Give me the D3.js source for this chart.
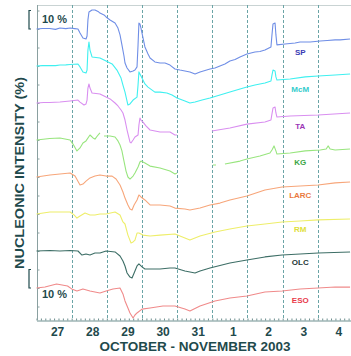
<!DOCTYPE html>
<html>
<head>
<meta charset="utf-8">
<script src="https://cdn.jsdelivr.net/npm/d3@7"></script>
<style>
  html, body { margin: 0; padding: 0; background: #fff; }
  svg { display: block; font-family: "Liberation Sans", Arial, sans-serif; }
</style>
</head>
<body>
<svg id="chart" width="351" height="356"></svg>
<script>
// Hourly nucleonic intensity, percent change from the 27 Oct level.
// Time is hours since 27 Oct 2003 00 UT; null marks a data gap.
const stations = ["SP", "McM", "TA", "KG", "LARC", "RM", "OLC", "ESO"];

const spData = [
  [0,0],[4,0.3],[9,0.3],[13,-0.2],[16,0.5],[20,0.2],[23,0.5],[26,0.2],[28.3,0],[29.7,-2.2],[31.7,-4.9],[33.8,-5.4],[34.5,-3.8],
  [35.1,4.9],[35.8,9.2],[37.9,10.3],[39.9,10.3],[42,9.5],[43.3,8.6],[46.1,7.6],[47.5,6.5],[50.2,4.9],[53.6,3.2],[55.6,0.5],
  [57,-3.2],[58.3,-8.6],[59.7,-14.6],[60.4,-18.4],[61.8,-21.1],[63.8,-23.2],[65.9,-22.7],[67.2,-22.2],[68.6,-20.5],
  [69.3,-8.6],[69.9,3.2],[70.6,2.7],[71.3,0.5],[72,-2.2],[74,-9.7],[76.1,-13.5],[77.5,-15.7],[80.8,-17.8],[84.3,-18.4],
  [87.7,-18.4],[91.1,-19.5],[94.5,-21.6],[97.9,-22.2],[101.3,-22.7],[104.7,-23.2],[108.2,-24.3],[111.6,-23.2],
  [115,-22.4],[118.4,-21.6],[121.8,-21.1],[125.2,-20],[128.6,-18.9],[132,-17.3],[135.5,-16.5],[138.9,-15.1],
  [143.6,-13.5],[149.1,-12.4],[152.5,-12.2],[155.9,-11.4],[160,-9.7],[160.7,-3.2],[161.4,2.7],[162.8,3.2],
  [163.4,-3.2],[164.1,-8.6],[169.6,-8.1],[176.5,-7.6],[179.9,-7],[186.8,-7],[193.6,-6.5],[198.4,-6.2],[203.8,-5.9],
  [207.2,-5.9],[214,-5.4]
];

const mcmData = [
  [0,0],[4,0.2],[9,0.3],[13,0.2],[16,0.5],[20,0.6],[23,0.8],[28.3,1.1],[29.7,-0.5],[31.7,-3.2],[33.8,-3.8],[34.5,-2.2],
  [35.1,8.6],[35.8,13],[36.5,8.6],[37.9,4.9],[43.3,4.3],[47.5,2.7],[51.6,1.1],[54.9,-2.2],[57.7,-6.5],[59,-10.3],
  [60.4,-14.1],[62.4,-21.1],[63.8,-20.5],[65.9,-18.4],[68.6,-16.8],[69.3,-10.3],[69.9,-3.2],[70.6,-4.3],[72,-6.5],
  [74,-9.7],[76.1,-11.4],[80.8,-14.1],[84.3,-14.1],[89,-14.6],[92.5,-15.7],[95.9,-17.3],[101.3,-18.9],[104.7,-20],
  [108.2,-19.5],[113,-18.4],[118.4,-17.3],[125.2,-15.7],[132,-14.1],[138.9,-12.4],[143.6,-11.4],[149.1,-10.3],
  [155.9,-9.2],[160,-8.1],[160.7,-4.9],[161.4,-2.2],[162.8,-2.7],[163.4,-5.9],[164.1,-7.6],[173.1,-7],[183.4,-5.9],
  [192.2,-5.4],[203.8,-4.9],[214,-4.3]
];

const taData = [
  [0,0],[5,0.3],[9,0.3],[16,0.5],[22.9,1.1],[28.3,1.6],[29.7,0.5],[32.4,-1.1],[33.8,-0.5],[34.5,1.6],[35.1,8.1],
  [35.8,10.3],[36.5,8.1],[37.9,5.4],[43.3,4.9],[47.5,3.2],[50.2,2.2],[53.6,0],[55.6,-1.6],[57.7,-3.8],[59,-5.4],
  [60.4,-9.2],[61.8,-14.6],[63.8,-21.1],[64.5,-21.6],[65.9,-20],[67.2,-18.4],[69.3,-17.3],[69.9,-11.9],[70.6,-8.1],
  [71.3,-9.2],[72.7,-10.3],[74.7,-12.4],[77.5,-14.6],[84.3,-15.7],[91.1,-15.7],[94.5,-17.3],[95.9,-17.3],
  null,
  [119.7,-15.1],[132,-13.5],[143.6,-11.4],[155.9,-10.3],[160,-9.2],[160.7,-5.9],[161.4,-2.7],[162.8,-2.2],
  [163.4,-5.4],[164.1,-7.6],[173.1,-7],[192.2,-6.5],[214,-5.4]
];

const kgData = [
  [0,0],[9,0.8],[16,1.1],[22.9,0],[24.9,-2.2],[27.6,-5.9],[29.7,-4.3],[31.7,-1.6],[33.8,-0.5],[36.5,2.7],[38.6,1.1],
  [39.9,0.5],[42,2.7],[43.3,3.8],
  null,
  [46.1,2.2],[50.2,2.2],[53.6,1.6],[55.6,-0.5],[57,-2.7],[58.3,-5.9],[59.7,-11.4],[61.1,-16.8],[62.4,-20],
  [63.8,-21.1],[65.9,-19.5],[67.2,-17.8],[69.3,-14.6],[70.6,-11.9],[71.3,-11.4],[72.7,-11.9],[74,-12.4],
  [77.5,-14.1],[84.3,-15.1],[91.1,-16.8],[94.5,-18.4],[95.9,-17.8],
  null,
  [120.4,-13.5],[122.5,-13.5],
  null,
  [128.6,-13],[138.9,-11.4],[143.6,-10.3],[152.5,-8.6],[159.3,-7],[160.7,-5.4],[162.1,-3.2],[163.4,-5.9],
  [164.1,-7.6],[173.1,-7],[183.4,-5.9],[193.6,-5.4],[197.7,-4.9],[199,-3.2],[200.4,-4.9],[203.8,-5.4],[214,-4.9]
];

const larcData = [
  [0,0],[9.2,1.1],[16,1.6],[22.9,2.2],[26.3,0.5],[29.7,-4.3],[31.7,-3.8],[33.8,-2.2],[36.5,-0.5],[39.9,0.5],
  [43.3,1.1],[47.5,0.5],[51.6,0.5],[54.3,-1.1],[57,-4.3],[59,-8.1],[60.4,-11.4],[62.4,-15.1],[63.8,-17.3],
  [65.2,-17.8],[66.6,-15.1],[68.6,-12.4],[69.9,-9.7],[71.3,-10.8],[74,-12.4],[77.5,-15.1],[84.3,-15.1],
  [91.1,-15.7],[94.5,-16.8],[101.3,-17.3],[104.7,-17.8],[111.6,-16.8],[118.4,-15.1],[125.2,-14.1],[132,-12.4],
  [143.6,-10.3],[155.9,-7],[167.6,-5.4],[179.9,-4.9],[192.2,-4.3],[203.8,-3.2],[214,-2.7]
];

const rmData = [
  [0,0],[9.2,1.1],[16,1.1],[22.9,1.1],[25.6,-0.5],[27.6,-2.2],[29.7,-1.1],[33.1,0.5],[36.5,-0.5],[39.9,-0.5],
  [43.3,0],[47.5,0],[53.6,1.1],[57,-0.5],[59,-4.3],[60.4,-5.4],[62.4,-11.4],[64.5,-15.7],[65.9,-15.1],[67.2,-14.1],
  [68.6,-10.3],[69.9,-10.3],[72.7,-11.4],[77.5,-11.9],[84.3,-11.4],[94.5,-10.8],[101.3,-13],[104.7,-14.1],
  [111.6,-11.9],[121.8,-9.7],[132,-8.1],[143.6,-6.5],[155.9,-5.4],[167.6,-4.3],[179.9,-3.8],[192.2,-3.2],[214,-2.7]
];

const olcData = [
  [0,0],[9.2,0.3],[16,0],[22.9,0.3],[28.3,0],[31,-2.2],[33.8,-1.6],[36.5,-2.2],[39.9,-1.1],[43.3,-1.1],[47.5,0],
  [53.6,-0.5],[57,-2.7],[59,-5.4],[60.4,-8.1],[61.8,-11.9],[63.8,-14.1],[65.2,-14.6],[67.2,-10.8],[68.6,-8.1],
  [69.9,-7],[72,-8.6],[74,-9.7],[77.5,-9.7],[84.3,-9.7],[91.1,-9.2],[94.5,-9.2],[101.3,-10.8],[108.2,-11.9],
  [111.6,-10.8],[118.4,-9.2],[132,-6.5],[143.6,-4.9],[155.9,-3.2],[167.6,-2.2],[179.9,-1.6],[192.2,-1.1],[214,-0.5]
];

const esoData = [
  [0,0],[5.8,0.5],[13.7,2.2],[21.2,1.1],[24,-0.5],[27.6,-1.6],[31.7,-0.5],[36.5,-1.6],[43.3,-2.7],[47.5,-1.6],
  [52.2,-0.5],[57,0],[59,-3.2],[60.4,-7],[62.4,-10.8],[63.8,-13.5],[65.9,-16.2],[67.2,-14.6],[68.6,-13.5],
  [72,-11.4],[77.5,-10.8],[86.3,-9.7],[94.5,-9.7],[101.3,-11.4],[104.7,-12.4],[111.6,-9.7],[121.8,-7],
  [132,-5.4],[143.6,-4.3],[155.9,-2.2],[167.6,-1.6],[179.9,-0.5],[192.2,0],[203.8,0.5],[214,0.5]
];

const seriesData = [spData, mcmData, taData, kgData, larcData, rmData, olcData, esoData];
const dayLabels = ["27", "28", "29", "30", "31", "1", "2", "3", "4"];
const xTitle = "OCTOBER - NOVEMBER 2003";
const yTitle = "NUCLEONIC INTENSITY (%)";
const scaleLabel = "10 %";

// Styling and layout
const lineColors = ["#6f8ee6", "#3ff0f0", "#d98ff0", "#98e57e", "#f7a67a", "#eeee6a", "#3d6e66", "#f08a8a"];
const nameColors = ["#3a3ab4", "#33cccc", "#9a35b5", "#3aa544", "#ea7a3e", "#dede3a", "#1e3a38", "#e83a4a"];
const nameOffsets = [-12.4, -12.4, -12.4, -11.9, -9.7, -8.1, -5.9, -6.5]; // % below each baseline
const stackStep = 20;   // % between stacked traces
const inkColor = "#1f4a4c";

const svg = d3.select("#chart");
const plotLeft = 37, plotTop = 5, plotBottom = 320;

const x = d3.scaleLinear().domain([0, 216]).range([36.5, 353]);
const y = d3.scaleLinear().domain([0, -160]).range([29, 29 + 160 * 1.85]);

// frame
svg.append("line").attr("x1", plotLeft).attr("x2", 351).attr("y1", plotTop + 0.5).attr("y2", plotTop + 0.5)
  .attr("stroke", "#c9d3d3").attr("stroke-width", 1);

// midnight separators
const midnights = d3.range(1, 9).map(d => d * 24);
svg.append("g").selectAll("line").data(midnights).join("line")
  .attr("x1", d => Math.round(x(d)) + 0.5).attr("x2", d => Math.round(x(d)) + 0.5)
  .attr("y1", plotTop).attr("y2", plotBottom)
  .attr("stroke", "#6aa4a6").attr("stroke-width", 1).attr("stroke-dasharray", "3,2");

// bottom axis with 3-hour minor ticks
const bottomAxis = d3.axisBottom(x).tickValues(d3.range(0, 217, 3)).tickSize(-2).tickSizeOuter(0).tickFormat("");
const gb = svg.append("g").attr("transform", `translate(0,${plotBottom + 0.5})`).call(bottomAxis);
gb.select(".domain").attr("stroke", "#6f9090");
gb.selectAll(".tick line").attr("stroke", "#6f9090");

// left axis with ticks every 10 %
const leftAxis = d3.axisLeft(y).tickValues(d3.range(10, -160, -10)).tickSize(-2).tickFormat("");
const gl = svg.append("g").attr("transform", `translate(${plotLeft + 0.5},0)`).call(leftAxis);
gl.select(".domain").attr("d", `M0,${plotTop}V${plotBottom}`).attr("stroke", "#8aa0a0");
gl.selectAll(".tick line").attr("stroke", "#8aa0a0");

// day labels
svg.append("g").selectAll("text").data(dayLabels).join("text")
  .attr("x", (d, i) => x(i * 24 + 14.4)).attr("y", 335.5)
  .attr("text-anchor", "middle").attr("font-size", 12).attr("font-weight", "bold")
  .attr("fill", inkColor).text(d => d);

svg.append("text").attr("x", 195).attr("y", 350.5).attr("text-anchor", "middle")
  .attr("font-size", 13.5).attr("font-weight", "bold").attr("fill", inkColor).text(xTitle);

svg.append("text").attr("transform", "translate(24,173) rotate(-90)").attr("text-anchor", "middle")
  .attr("font-size", 12.5).attr("font-weight", "bold").attr("fill", inkColor)
  .attr("textLength", 192).attr("lengthAdjust", "spacingAndGlyphs").text(yTitle);

// 10 % scale bars
function scaleBar(base, textY) {
  const y0 = y(base), y1 = y(base + 10);
  const g = svg.append("g").attr("stroke", inkColor).attr("stroke-width", 1.2).attr("fill", "none");
  g.append("path").attr("d", `M31,${y1}H29V${y0}H31`);
  svg.append("text").attr("x", 42).attr("y", textY).attr("font-size", 11).attr("font-weight", "bold")
    .attr("fill", inkColor).text(scaleLabel);
}
scaleBar(0, 23);
scaleBar(-7 * stackStep, 298);

// traces
const line = d3.line()
  .defined(d => d !== null)
  .x(d => x(d[0]))
  .y(d => y(d[1]));

seriesData.forEach((data, i) => {
  const shift = -i * stackStep;
  svg.append("path")
    .datum(data.map(d => d === null ? null : [d[0], d[1] + shift]))
    .attr("fill", "none").attr("stroke", lineColors[i]).attr("stroke-width", 1.1)
    .attr("stroke-linejoin", "round").attr("d", line);
});

// station names
svg.append("g").selectAll("text").data(stations).join("text")
  .attr("x", x(180)).attr("y", (d, i) => y(-i * stackStep + nameOffsets[i]) + 3)
  .attr("text-anchor", "middle").attr("font-size", 8).attr("font-weight", "bold")
  .attr("fill", (d, i) => nameColors[i]).text(d => d);
</script>
</body>
</html>
